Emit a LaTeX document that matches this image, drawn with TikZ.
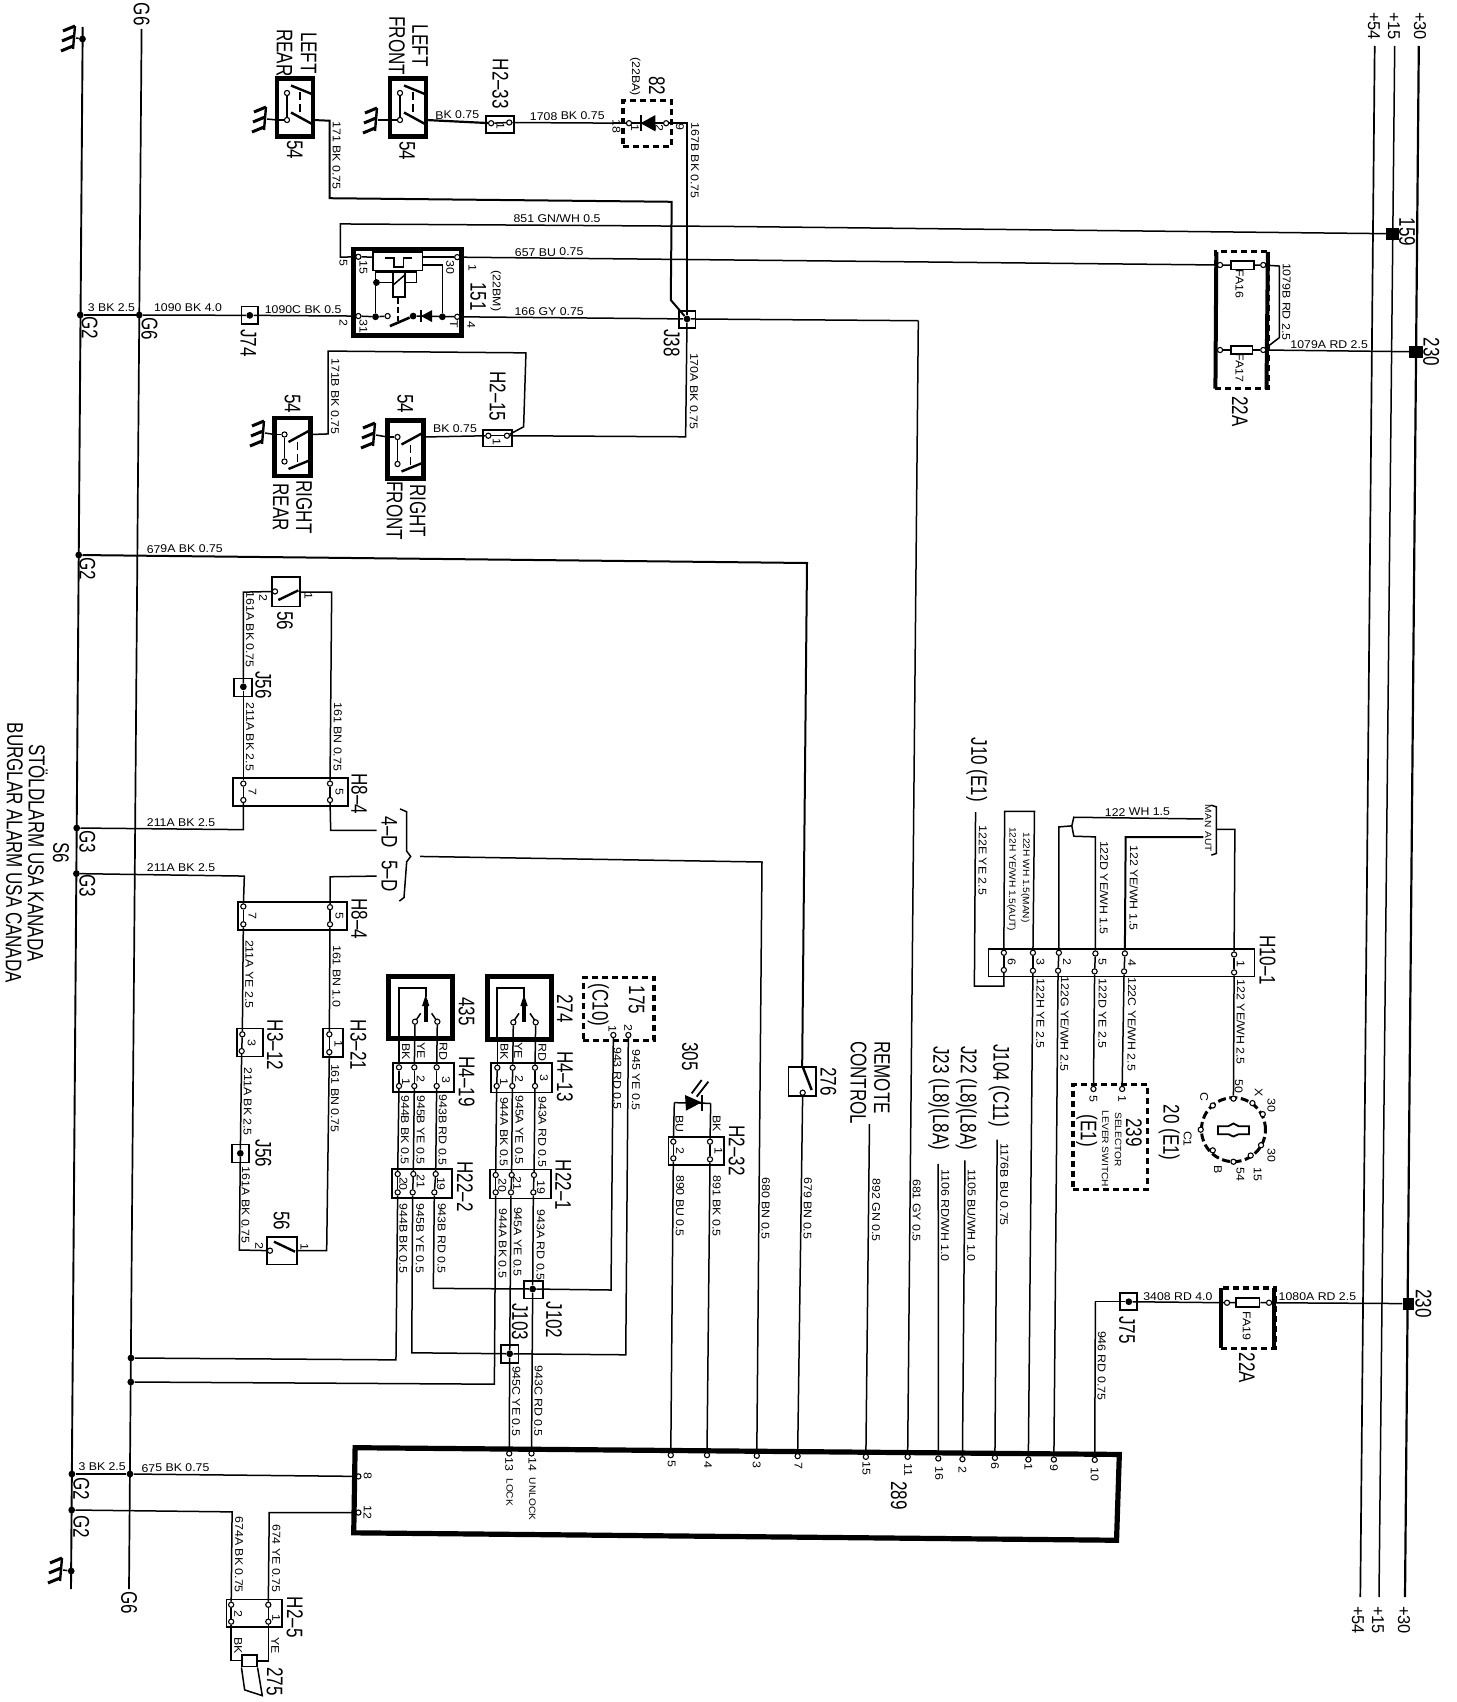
\documentclass[tikz,border=0pt]{standalone}
\usepackage{fontspec}
\usetikzlibrary{fit}
\newfontfamily\wf[FakeStretch=0.75]{Liberation Sans}
\newfontfamily\rf[FakeStretch=0.95]{Liberation Sans}
\newfontfamily\smf[FakeStretch=1.1]{Liberation Sans}
\newcount\tcnt
\tikzset{
 wire/.style={line width=.75pt},
 comp/.style={line width=2.2pt},
 thinbox/.style={draw,line width=.85pt,inner sep=0pt},
 heavybox/.style={draw,line width=2.4pt,inner sep=0pt},
 dashbox/.style={draw,line width=1.7pt,dash pattern=on 3pt off 2pt,inner sep=0pt},
 pinn/.style={circle,draw,fill=white,line width=.55pt,minimum size=2.6pt,inner sep=0pt},
 dotn/.style={circle,fill=black,minimum size=3.4pt,inner sep=0pt},
 sq/.style={fill=black,inner sep=0pt},
 slab/.style={rotate=-90.4,inner sep=0pt,font=\smf\fontsize{5.6}{6}\selectfont},
 tlab/.style={rotate=-90.4,inner sep=0pt,font=\smf\fontsize{4.6}{5}\selectfont},
 hlab/.style={rotate=.4,inner sep=0pt,font=\smf\fontsize{5.6}{6}\selectfont},
 blab/.style={rotate=-90.4,inner sep=0pt,font=\wf\fontsize{11.3}{12}\selectfont},
 rlab/.style={rotate=-90.4,inner sep=0pt,font=\rf\fontsize{8.6}{9}\selectfont},
 ca/.style={x=.2321pt,y=-.17857pt},
 cc/.style={x=.16667pt,y=-.17857pt},
 cd/.style={x=.16667pt,y=-.16667pt},
 ce/.style={x=.19646pt,y=-.17241pt},
 cf/.style={x=.2321pt,y=-.1689pt},
 cg/.style={x=.17241pt,y=-.17241pt},
}
\newcommand\Ts[2]{\global\advance\tcnt by 1 \node[slab] (t\the\tcnt) at (#1) {#2};}
\newcommand\Tt[2]{\global\advance\tcnt by 1 \node[tlab] (t\the\tcnt) at (#1) {#2};}
\newcommand\Th[2]{\global\advance\tcnt by 1 \node[hlab] (t\the\tcnt) at (#1) {#2};}
\newcommand\Tb[2]{\global\advance\tcnt by 1 \node[blab] (t\the\tcnt) at (#1) {#2};}
\newcommand\Tr[2]{\global\advance\tcnt by 1 \node[rlab] (t\the\tcnt) at (#1) {#2};}
\newcommand\pn[2]{\node[pinn] (#1) at (#2) {};}
\newcommand\jd[2]{\node[dotn] (#1) at (#2) {};}
\newcommand\bx[4]{\node[#2,fit={(#3) (#4)}] (#1) {};}
\newcommand\gd[2]{\begin{scope}[shift={(#2)}]
 \coordinate (#1) at (0,0);
 \draw[line width=1.2pt] (-1,-12) -- (-3,11);
 \draw[line width=1.5pt] (-1,-12) -- (-13,-7) (-2,-2) -- (-14,3) (-3,8) -- (-15,13);
 \end{scope}}
\newcommand\swf[4]{\begin{scope}[shift={(#2,#3)},yscale=#4]
 \draw[comp] (-18,-29) rectangle (18,29);
 \node[pinn] (#1a) at (-8,-14.5) {};
 \node[pinn] (#1b) at (-8,12.5) {};
 \coordinate (#1g) at (-18,12.5);
 \coordinate (#1w) at (18,12.5);
 \draw[wire] (#1a) -- (#1b);
 \draw[wire] (#1g) -- (#1b);
 \draw[line width=1.2pt] (-4,-22) -- (18,-13);
 \draw[line width=1.2pt] (-4,5) -- (18,17);
 \draw[line width=.9pt,dash pattern=on 4pt off 2pt] (5,-15) -- (5,9);
 \end{scope}}
\newcommand\mswitch[2]{% small contact arrangement inside 435 / 274, offset in crop units
 \draw[line width=.9pt] (57+#1,415) -- (57+#1,265) -- (137+#1,265) -- (137+#1,290);
 \draw[line width=2pt] (137+#1,365) -- (137+#1,300);
 \fill (137+#1,285) -- (126+#1,318) -- (148+#1,318) -- cycle;
 \draw[wire] (105+#1,365) -- (122+#1,340) (172+#1,365) -- (155+#1,340);
}
\begin{document}
\begin{tikzpicture}[x=.5pt,y=-.5pt]
\useasboundingbox (0,0) rectangle (1456,1702);
\fill[white] (0,0) rectangle (1456,1702);
% ---------------- main rails (pixel units)
\coordinate (g2t) at (82.7,27); \coordinate (g2b) at (71,1589);
\coordinate (g6t) at (141.6,29); \coordinate (g6b) at (129,1589);
\coordinate (b54t) at (1374.7,46); \coordinate (b54b) at (1360.3,1597);
\coordinate (b15t) at (1394.7,46); \coordinate (b15b) at (1379,1597);
\coordinate (b30t) at (1418.8,46); \coordinate (b30b) at (1405,1597);
\draw[line width=.95pt] (g2t) -- (g2b);
\draw[line width=.85pt] (g6t) -- (g6b);
\draw[line width=.85pt] (b54t) -- (b54b);
\draw[line width=.75pt] (b15t) -- (b15b);
\draw[line width=1.1pt] (b30t) -- (b30b);
\jd{ga}{82.5,39} \jd{gb}{80.3,315} \jd{gc}{78.7,555} \jd{gd}{76.7,828} \jd{ge}{76.4,873.6}
\jd{gf}{71.9,1474} \jd{gg}{71.7,1510} \jd{gh}{71.2,1571}
\jd{sa}{139.3,315} \jd{sb}{131,1358} \jd{sc}{130.8,1382} \jd{sd}{130,1474}
\gd{gr1}{76,38} \gd{gr2}{63,1570}
\draw[wire] (gr1) -- (ga); \draw[wire] (gr2) -- (gh);
\gd{gr3}{267,119} \gd{gr4}{378,120} \gd{gr5}{265,433} \gd{gr6}{376,435}
\swf{lr}{295}{107.5}{1} \swf{lf}{408}{107.5}{1} \swf{rr}{292.5}{447}{-1} \swf{rf}{405.5}{449.5}{-1}
\draw[wire] (gr3) -- (lrg); \draw[wire] (gr4) -- (lfg); \draw[wire] (gr5) -- (rrg); \draw[wire] (gr6) -- (rfg);
% rails labels
\Tr{1374,26}{+54} \Tr{1394,26}{+15} \Tr{1420,26}{+30}
\Tr{1358,1620}{+54} \Tr{1378,1620}{+15} \Tr{1404,1620}{+30}
% ================= region A : upper left
\begin{scope}[ca]
\Tb{305,40}{G6} \Tb{193,918}{G2} \Tb{322,920}{G6}
\Th{240,862}{3 BK 2.5} \Th{405,862}{1090 BK 4.0} \Th{653,867}{1090C BK 0.5}
\Tb{665,148}{LEFT} \Tb{613,148}{REAR} \Tb{905,128}{LEFT} \Tb{855,128}{FRONT}
\Tb{655,1420}{RIGHT} \Tb{605,1420}{REAR} \Tb{900,1430}{RIGHT} \Tb{850,1430}{FRONT}
\Tb{635,420}{54} \Tb{877,422}{54} \Tb{630,1130}{54} \Tb{873,1130}{54}
\Ts{725,435}{171 BK 0.75} \Ts{722,1110}{171B BK 0.75}
\Th{985,322}{BK 0.75} \Th{980,1200}{BK 0.75} \Th{1222,325}{1708 BK 0.75}
\Tb{1078,235}{H2–33} \Tb{1072,1110}{H2–15}
% H2-33
\bx{hA}{thinbox}{1047,325}{1108,373}
\pn{hAa}{1058,345} \pn{hAb}{1097,343} \Ts{1078,352}{1}
% 82
\bx{d82}{dashbox}{1342,282}{1447,410}
\pn{dA}{1355,345} \pn{dB}{1435,345}
\fill (1380,345) -- (1412,322) -- (1412,368) -- cycle;
\draw[line width=1pt] (1380,322) -- (1380,368);
\draw[wire] (dA) -- (dB);
\Tb{1415,240}{82} \Ts{1368,215}{(22BA)} \Ts{1328,355}{18} \Ts{1368,358}{1} \Ts{1420,358}{2} \Ts{1465,355}{9}
\Ts{1497,450}{167B BK 0.75}
\Th{1200,612}{851 GN/WH 0.5} \Th{1183,706}{657 BU 0.75} \Th{1183,872}{166 GY 0.75}
% relay 151
\bx{rel}{heavybox}{762,697}{995,940}
\bx{coilb}{thinbox}{803,705}{910,757}
\draw[wire] (829,723) -- (849,723) -- (849,747) -- (869,747) -- (869,723) -- (887,723);
\bx{coilr}{thinbox}{846,761}{872,831}
\draw[wire] (847,798) -- (872,770);
\pn{r15}{772,719} \pn{r30}{985,720} \pn{r31}{772,885} \pn{rT}{985,887} \pn{ri}{835,885}
\jd{rd1}{809,887} \jd{rd2}{811,791} \jd{rd3}{953,887} \jd{rd4}{890,885}
\draw[wire] (r15) -- (803,720); \draw[wire] (r30) -- (910,720);
\draw[wire] (r31) -- (rd1) -- (ri);
\draw[wire] (846,761) -- (809,761) -- (rd1);
\draw[wire] (rd2) -- (846,791);
\draw[wire] (872,761) -- (897,761) -- (897,791) -- (872,791);
\draw[line width=1.3pt] (840,913) -- (rd4);
\draw[wire] (rd4) -- (rT);
\fill (907,885) -- (931,868) -- (931,902) -- cycle;
\draw[line width=.9pt] (907,868) -- (907,902);
\draw[wire] (rd3) -- (953,742) -- (910,742);
\draw[line width=.9pt,dash pattern=on 3pt off 1.5pt] (858,833) -- (858,900);
\Ts{783,750}{15} \Ts{970,750}{30} \Ts{783,915}{31} \Ts{978,907}{T}
\Ts{740,735}{5} \Ts{740,903}{2} \Ts{1018,750}{1} \Ts{1015,910}{4}
\Tb{1030,830}{151} \Ts{1068,815}{(22BM)}
% J74
\bx{j74}{thinbox}{520,858}{556,908} \jd{j74d}{538,883} \Tb{535,960}{J74}
% J38
\bx{j38}{thinbox}{1462,870}{1498,918} \jd{j38d}{1480,893} \Tb{1447,960}{J38}
\Ts{1495,1095}{170A BK 0.75}
% H2-15
\bx{hB}{thinbox}{1040,1203}{1103,1250}
\pn{hBa}{1052,1220} \pn{hBb}{1092,1220} \Ts{1070,1237}{1}
\Th{398,1537}{679A BK 0.75}
% wires
\draw[wire] (sa) -- (j74d);
\draw[line width=.95pt] (gb) -- (sa);
\draw[wire] (j74d) -- (r31);
\draw[line width=1pt] (lrw) -- (710,338) -- (710,555) -- (1447,565) -- (1445,840) -- (j38d);
\draw[line width=1.1pt] (lfw) -- (hAa);
\draw[wire] (hAa) -- (hAb);
\draw[wire] (hAb) -- (dA);
\draw[wire] (dB) -- (1480,345) -- (j38d);
\draw[wire] (r15) -- (733,720) -- (733,627) -- (1568,634);
\draw[wire] (j38d) -- (1477,1223) -- (hBb);
\draw[wire] (hBa) -- (rfw);
\draw[wire] (hBa) -- (hBb);
\draw[wire] (hBb) -- (1128,1195) -- (1133,988) -- (707,983) -- (707,1215) -- (rrw);
\end{scope}
% ================= region B : upper right
\begin{scope}[shift={(728,0)},ca]
\node[sq,fit={(1418,637) (1445,672)}] (j159) {};
\node[sq,fit={(1468,968) (1497,1002)}] (j230a) {};
\Tb{1463,650}{159} \Tb{1515,985}{230} \Tb{1103,1152}{22A}
\Ts{1102,795}{FA16} \Ts{1102,1030}{FA17}
\Ts{1203,845}{1079B RD 2.5} \Th{1295,965}{1079A RD 2.5}
\bx{fb}{dashbox}{1050,705}{1163,1088}
\draw[line width=2pt] (1052,705) -- (1050,1088) (1163,705) -- (1160,1088);
\pn{f16a}{1060,742} \pn{f16b}{1153,742} \pn{f17a}{1060,980} \pn{f17b}{1153,980}
\bx{f16}{thinbox}{1083,730}{1133,755} \bx{f17}{thinbox}{1083,968}{1130,992}
\draw[wire] (f16a) -- (f16); \draw[wire] (f16) -- (f16b);
\draw[wire] (f17a) -- (f17); \draw[wire] (f17) -- (f17b);
\draw[wire] (f16b) -- (1188,745) -- (1188,945) -- (f17b);
\draw[wire] (f17b) -- (j230a);
\draw[wire] (r30) -- (f16a);
\draw[wire] (0,634) -- (j159);
\coordinate (c166) at (410,898);
\draw[wire] (rT) -- (j38d) -- (c166);
\end{scope}
% ================= region C : left middle
\begin{scope}[shift={(0,560)},cc]
\Tb{262,25}{G2} \Tb{262,788}{G3} \Tb{262,912}{G3}
\Tb{113,820}{STÖLDLARM USA KANADA} \Tb{43,820}{BURGLAR ALARM USA CANADA} \Tb{183,820}{S6}
\bx{s56}{thinbox}{815,48}{900,130} \pn{s56p}{825,88}
\draw[line width=1.2pt] (835,112) -- (895,85);
\Tb{855,170}{56} \Ts{790,105}{2} \Ts{925,100}{1}
\Ts{750,195}{161A BK 0.75} \Ts{750,495}{211A BK 2.5} \Ts{1013,495}{161 BN 0.75}
\bx{j56}{thinbox}{703,332}{757,382} \jd{j56d}{730,355} \Tb{790,350}{J56}
\bx{h8a}{thinbox}{698,610}{1045,688}
\pn{a7t}{730,626} \pn{a7b}{730,672} \pn{a5t}{990,626} \pn{a5b}{990,672}
\Ts{757,650}{7} \Ts{1018,650}{5} \Tb{1078,655}{H8–4}
\Th{543,735}{211A BK 2.5} \Th{543,862}{211A BK 2.5}
\bx{h8b}{thinbox}{713,958}{1040,1035}
\pn{b7t}{730,970} \pn{b7b}{730,1020} \pn{b5t}{990,972} \pn{b5b}{990,1020}
\Ts{757,997}{7} \Ts{1018,997}{5} \Tb{1078,1005}{H8–4}
\Tb{1168,763}{4–D} \Tb{1168,885}{5–D}
\draw[wire] (1200,697) -- (1220,705) -- (1220,815) -- (1232,830) -- (1220,845) -- (1212,945) -- (1198,955);
\Ts{748,1160}{211A YE 2.5} \Ts{1010,1165}{161 BN 1.0}
\bx{h3a}{thinbox}{710,1312}{790,1390}
\pn{h3at}{727,1328} \pn{h3ab}{725,1375} \Ts{755,1352}{3} \Tb{825,1358}{H3–12}
\bx{h3b}{thinbox}{970,1312}{1030,1392}
\pn{h3bt}{988,1328} \pn{h3bb}{988,1378} \Ts{1015,1355}{1} \Tb{1075,1358}{H3–21}
\draw[wire] (s56p) -- (730,90) -- (j56d);
\draw[wire] (j56d) -- (a7t); \draw[wire] (a7t) -- (a7b);
\draw[wire] (900,90) -- (995,90) -- (a5t); \draw[wire] (a5t) -- (a5b);
\draw[wire] (gd) -- (730,755) -- (a7b);
\draw[wire] (ge) -- (733,885) -- (b7t);
\draw[wire] (a5b) -- (992,757) -- (1130,757);
\draw[wire] (1130,885) -- (990,887) -- (b5t);
\draw[wire] (b7t) -- (b7b); \draw[wire] (b5t) -- (b5b);
\draw[wire] (b7b) -- (h3at); \draw[wire] (b5b) -- (h3bt);
\draw[wire] (h3at) -- (h3ab); \draw[wire] (h3bt) -- (h3bb);
\coordinate (c4d) at (1260,830);
\end{scope}
% ================= region D : relays
\begin{scope}[shift={(200,1040)},cd]
\Ts{143,185}{211A BK 2.5} \Ts{405,175}{161 BN 0.75} \Ts{137,495}{161A BK 0.75}
\bx{j56l}{thinbox}{95,313}{147,367} \jd{j56ld}{121,340} \Tb{190,340}{J56}
\bx{s56l}{thinbox}{200,590}{290,673} \pn{s56lp}{210,632} \draw[line width=1.2pt] (222,605) -- (285,635);
\Tb{245,543}{56} \Ts{178,618}{2} \Ts{313,622}{1}
\draw[wire] (h3ab) -- (j56ld);
\draw[wire] (j56ld) -- (118,630) -- (s56lp);
\draw[wire] (290,632) -- (380,632) -- (h3bb);
\end{scope}
\begin{scope}[shift={(380,900)},cd]
\bx{b435}{heavybox}{25,230}{218,415} \mswitch{0}{} \Tb{260,335}{435}
\bx{b274}{heavybox}{322,230}{515,418} \mswitch{295}{} \Tb{555,325}{274}
\bx{h419}{thinbox}{40,488}{222,575}
\pn{c1t}{57,502} \pn{c2t}{103,502} \pn{c3t}{170,502} \pn{c1b}{57,558} \pn{c2b}{103,558} \pn{c3b}{170,558}
\pn{c2s}{105,365} \pn{c3s}{172,365}
\Ts{78,455}{BK} \Ts{123,452}{YE} \Ts{190,455}{RD}
\Ts{78,545}{1} \Ts{122,538}{2} \Ts{198,540}{3} \Tb{260,545}{H4–19}
\Ts{75,690}{944B BK 0.5} \Ts{122,690}{945B YE 0.5} \Ts{188,690}{943B RD 0.5}
\bx{h222}{thinbox}{37,807}{217,893}
\pn{e1t}{53,822} \pn{e2t}{100,822} \pn{e3t}{167,822} \pn{e1b}{53,877} \pn{e2b}{98,877} \pn{e3b}{163,877}
\Ts{70,852}{20} \Ts{122,845}{21} \Ts{183,852}{19} \Tb{255,860}{H22–2}
\Ts{70,1015}{944B BK 0.5} \Ts{120,1015}{945B YE 0.5} \Ts{185,1015}{943B RD 0.5}
\bx{h413}{thinbox}{333,488}{517,577}
\pn{f1t}{352,503} \pn{f2t}{398,503} \pn{f3t}{465,503} \pn{f1b}{350,558} \pn{f2b}{397,558} \pn{f3b}{465,558}
\pn{f2s}{400,367} \pn{f3s}{467,367}
\Ts{373,455}{BK} \Ts{415,452}{YE} \Ts{487,457}{RD}
\Ts{372,545}{1} \Ts{418,538}{2} \Ts{492,535}{3} \Tb{555,530}{H4–13}
\Ts{372,695}{944A BK 0.5} \Ts{418,690}{945A YE 0.5} \Ts{487,695}{943A RD 0.5}
\bx{h221}{thinbox}{330,808}{512,895}
\pn{k1t}{347,825} \pn{k2t}{395,825} \pn{k3t}{462,825} \pn{k1b}{347,877} \pn{k2b}{393,877} \pn{k3b}{460,877}
\Ts{367,857}{20} \Ts{412,850}{21} \Ts{483,862}{19} \Tb{550,855}{H22–1}
\Ts{368,1030}{944A BK 0.5} \Ts{413,1025}{945A YE 0.5} \Ts{482,1035}{943A RD 0.5}
% 175
\bx{b175}{dashbox}{610,232}{822,422}
\Tb{770,300}{175} \Tb{655,315}{(C10)}
\pn{p1}{700,405} \pn{p2}{745,405} \Ts{697,388}{1} \Ts{745,385}{2}
\Ts{712,535}{943 RD 0.5} \Ts{768,540}{945 YE 0.5}
\bx{j102}{thinbox}{433,1142}{488,1195} \jd{j102d}{458,1167} \Tb{522,1260}{J102}
\Tb{420,1265}{J103}
% 305
\Tb{930,470}{305}
\fill (915,585) -- (965,607) -- (918,632) -- cycle;
\draw[wire] (883,608) -- (992,610);
\draw[line width=1pt] (965,585) -- (965,632);
\draw[line width=.9pt] (935,580) -- (965,540) (950,590) -- (985,545);
\pn{n2t}{880,725} \pn{n1t}{990,725} \pn{n2b}{880,775} \pn{n1b}{990,778}
\Ts{898,672}{BU} \Ts{1010,672}{BK}
\bx{h232}{thinbox}{865,710}{1032,795}
\Ts{900,752}{2} \Ts{1015,752}{1} \Tb{1070,752}{H2–32}
\Ts{900,918}{890 BU 0.5} \Ts{1010,918}{891 BK 0.5}
\Ts{1157,925}{680 BN 0.5} \Ts{1283,925}{679 BN 0.5}
% 276
\bx{b276}{thinbox}{1225,500}{1308,588} \pn{p276}{1268,578}
\draw[line width=1.2pt] (1268,500) -- (1295,570);
\Tb{1345,545}{276}
% wires
\foreach \a/\b in {c1t/c1b,c2t/c2b,c3t/c3b,e1t/e1b,e2t/e2b,e3t/e3b,f1t/f1b,f2t/f2b,f3t/f3b,k1t/k1b,k2t/k2b,k3t/k3b,c2s/c2t,c3s/c3t,f2s/f2t,f3s/f3t,c1b/e1t,c2b/e2t,c3b/e3t,f1b/k1t,f2b/k2t,f3b/k3t,n2t/n2b,n1t/n1b}{\draw[wire] (\a) -- (\b);}
\draw[wire] (57,415) -- (c1t); \draw[wire] (352,418) -- (f1t);
\draw[wire] (883,608) -- (n2t); \draw[wire] (992,610) -- (n1t);
\draw[wire] (e3b) -- (160,1165) -- (j102d);
\draw[wire] (j102d) -- (693,1170) -- (p1);
\draw[wire] (k3b) -- (j102d);
\end{scope}
% ================= region E : right middle
\begin{scope}[shift={(840,800)},ce]
\bx{h101}{thinbox}{378,432}{1055,512}
\pn{u6}{417,443} \pn{u3}{491,443} \pn{u2}{557,443} \pn{u5}{650,445} \pn{u4}{725,445} \pn{u1}{1003,448}
\pn{l6}{417,493} \pn{l3}{491,495} \pn{l2}{555,495} \pn{l5}{648,497} \pn{l4}{723,497} \pn{l1}{1003,500}
\Ts{437,470}{6} \Ts{510,470}{3} \Ts{578,470}{2} \Ts{668,470}{5} \Ts{743,472}{4} \Ts{1020,475}{1}
\Tb{1088,465}{H10–1}
\foreach \k in {1,2,3,4,5,6}{\draw[wire] (u\k) -- (l\k);}
\draw[wire] (u6) -- (419,33) -- (495,33) -- (u3);
\Tt{472,225}{122H WH 1.5(MAN)} \Tt{437,230}{122H YE/WH 1.5(AUT)}
\Ts{363,175}{122E YE 2.5}
\coordinate (j10end) at (345,35);
\draw[wire] (l6) -- (417,540) -- (342,540) -- (j10end);
\draw[wire] (u2) -- (557,78) -- (590,75);
\draw[wire] (925,55) -- (595,50) -- (590,75) -- (595,105) -- (650,107) -- (u5);
\draw[line width=1pt] (u4) -- (727,108) -- (925,108);
\Th{757,35}{122 WH 1.5} \Ts{672,255}{122D YE/WH 1.5} \Ts{748,255}{122 YE/WH 1.5}
\Tt{937,47}{MAN} \Tt{937,122}{AUT}
\draw[wire] (945,15) -- (958,20) -- (958,155) -- (945,160);
\draw[wire] (958,85) -- (1005,85) -- (u1);
\Ts{510,620}{122H YE 2.5} \Ts{572,650}{122G YE/WH 2.5} \Ts{668,620}{122D YE 2.5} \Ts{743,650}{122C YE/WH 2.5} \Ts{1020,645}{122 YE/WH 2.5}
\bx{b239}{dashbox}{593,825}{782,1130}
\pn{s5}{645,838} \pn{s1}{718,838}
\Ts{645,868}{5} \Ts{718,868}{1}
\Tb{748,965}{239} \Tt{708,985}{SELECTOR} \Tt{675,1012}{LEVER SWITCH} \Tb{628,960}{(E1)}
\draw[wire] (l5) -- (s5); \draw[wire] (l4) -- (s1);
\Tb{838,965}{20 (E1)}
\Ts{1015,830}{50}
\Tb{107,805}{REMOTE} \Tb{47,820}{CONTROL}
\coordinate (rc) at (75,940);
\Ts{92,1190}{892 GN 0.5} \Ts{195,1190}{681 GY 0.5}
\Tb{405,828}{J104 (C11)} \Tb{322,865}{J22 (L8)(L8A)} \Tb{252,865}{J23 (L8)(L8A)}
\coordinate (jc1) at (400,985); \coordinate (jc2) at (318,1045); \coordinate (jc3) at (250,1055);
\Ts{418,1115}{1176B BU 0.75} \Ts{335,1205}{1105 BU/WH 1.0} \Ts{268,1205}{1106 RD/WH 1.0}
\bx{j75}{thinbox}{712,1430}{755,1478} \jd{j75d}{735,1455}
\Th{860,1440}{3408 RD 4.0} \Th{1215,1440}{1080A RD 2.5}
\bx{fA}{dashbox}{970,1415}{1107,1590}
\draw[line width=2pt] (970,1415) -- (970,1590) (1105,1415) -- (1105,1590);
\pn{f19a}{985,1458} \pn{f19b}{1092,1458}
\bx{f19}{thinbox}{1008,1445}{1068,1470}
\Ts{1035,1525}{FA19}
\node[sq,fit={(1432,1443) (1462,1478)}] (j230b) {};
\Tb{1485,1460}{230}
\draw[wire] (f19a) -- (f19); \draw[wire] (f19) -- (f19b);
\draw[wire] (f19b) -- (j230b);
\draw[wire] (f19a) -- (j75d);
\coordinate (c946) at (650,1455);
\draw[wire] (j75d) -- (c946);
\end{scope}
\Tb{977,770}{J10 (E1)}
\Tb{1127,1330}{J75}
% rotary 20
\begin{scope}[shift={(1180,1090)},cg]
\node[circle,draw,line width=1.5pt,dash pattern=on 4pt off 1.8pt,minimum size=32pt,inner sep=0pt] (rot) at (155,115) {};
\pn{q50}{155,25} \pn{q1}{95,45} \pn{q2}{60,115} \pn{q3}{95,175} \pn{q4}{155,208} \pn{q5}{205,190} \pn{q6}{235,160} \pn{q7}{240,70} \pn{q8}{210,38}
\draw[line width=.9pt] (110,105) -- (140,105) -- (155,97) -- (170,105) -- (200,105) -- (200,128) -- (170,128) -- (155,135) -- (140,128) -- (110,128) -- cycle;
\Ts{70,20}{C} \Ts{22,142}{C1} \Ts{110,232}{B} \Ts{175,245}{54} \Ts{225,245}{15} \Ts{265,190}{30} \Ts{265,45}{30} \Ts{228,8}{X}
\draw[wire] (l1) -- (q50);
\end{scope}
% ================= region F : bottom
\begin{scope}[shift={(0,1320)},cf]
\coordinate (bx1) at (765,378); \coordinate (bx4) at (762,630);
\Tb{175,500}{G2} \Tb{175,612}{G2} \Tb{278,838}{G6}
\Th{220,435}{3 BK 2.5} \Th{378,438}{675 BK 0.75}
\pn{m8}{772,463} \pn{m12}{772,570} \pn{m13}{1097,395} \pn{m14}{1145,395} \pn{m5}{1445,400} \pn{m4}{1523,400}
\Ts{792,463}{8} \Ts{792,570}{12} \Ts{1097,428}{13} \Ts{1147,428}{14} \Ts{1447,427}{5} \Ts{1525,428}{4}
\Tt{1098,510}{LOCK} \Tt{1147,530}{UNLOCK}
\Ts{515,695}{674A BK 0.75} \Ts{595,705}{674 YE 0.75}
\bx{h25}{thinbox}{488,827}{608,908}
\pn{v2t}{498,843} \pn{v1t}{578,843} \pn{v2b}{498,893} \pn{v1b}{578,893}
\Ts{513,870}{2} \Ts{595,882}{1} \Tb{635,880}{H2–5}
\Ts{513,965}{BK} \Ts{593,965}{YE}
\bx{b275}{thinbox}{522,992}{553,1026}
\draw[wire] (b275.south west) -- (527,1095) -- (565,1112) -- (b275.south east);
\Tb{592,1070}{275}
\Ts{1112,240}{945C YE 0.5} \Ts{1160,240}{943C RD 0.5}
\bx{j103}{thinbox}{1080,73}{1117,127} \jd{j103d}{1098,100}
\foreach \a/\b in {v2t/v2b,v1t/v1b}{\draw[wire] (\a) -- (\b);}
\draw[wire] (gf) -- (sd); \draw[wire] (sd) -- (m8);
\draw[wire] (gg) -- (500,568) -- (v2t);
\draw[wire] (m12) -- (580,570) -- (v1t);
\draw[wire] (v2b) -- (498,1008) -- (522,1008);
\draw[wire] (v1b) -- (578,1010) -- (553,1010);
\draw[wire] (sb) -- (853,118) -- (e1b);
\draw[wire] (sc) -- (1065,190) -- (k1b);
\draw[wire] (e2b) -- (887,97) -- (j103d);
\draw[wire] (j103d) -- (1348,103) -- (p2);
\draw[wire] (k2b) -- (j103d) -- (m13);
\draw[wire] (j102d) -- (m14);
\draw[wire] (n2b) -- (m5);
\draw[wire] (n1b) -- (m4);
\end{scope}
\begin{scope}[shift={(728,1320)},cf]
\coordinate (bx2) at (843,398); \coordinate (bx3) at (837,652);
\draw[line width=2.6pt] (bx1) -- (bx2) -- (bx3) -- (bx4) -- cycle;
\pn{m3}{62,402} \pn{m7}{150,403} \pn{m15}{297,405} \pn{m11}{387,405} \pn{m16}{453,410} \pn{m2}{505,412} \pn{m6}{575,408} \pn{m1}{647,413} \pn{m9}{702,413} \pn{m10}{790,414}
\Ts{62,428}{3} \Ts{152,432}{7} \Ts{298,440}{15} \Ts{388,445}{11} \Ts{455,455}{16} \Ts{505,443}{2} \Ts{575,432}{6} \Ts{647,435}{1} \Ts{702,438}{9} \Ts{790,458}{10}
\Ts{805,135}{946 RD 0.75}
\Tb{368,520}{289}
\Tb{1118,142}{22A}
\end{scope}
% long connectors (pixel units)
\coordinate (c4dc) at (762,862);
\coordinate (c679) at (807,563);
\draw[wire] (c4d) -- (c4dc) -- (m3);
\draw[line width=1pt] (gc) -- (c679) -- (b276.north) ;
\draw[wire] (p276) -- (m7);
\draw[wire] (c166) -- (m11);
\draw[wire] (rc) -- (m15);
\draw[wire] (jc1) -- (m6);
\draw[wire] (jc2) -- (m2);
\draw[wire] (jc3) -- (m16);
\draw[wire] (l3) -- (m1);
\draw[wire] (l2) -- (m9);
\draw[wire] (c946) -- (m10);
\end{tikzpicture}
\end{document}
